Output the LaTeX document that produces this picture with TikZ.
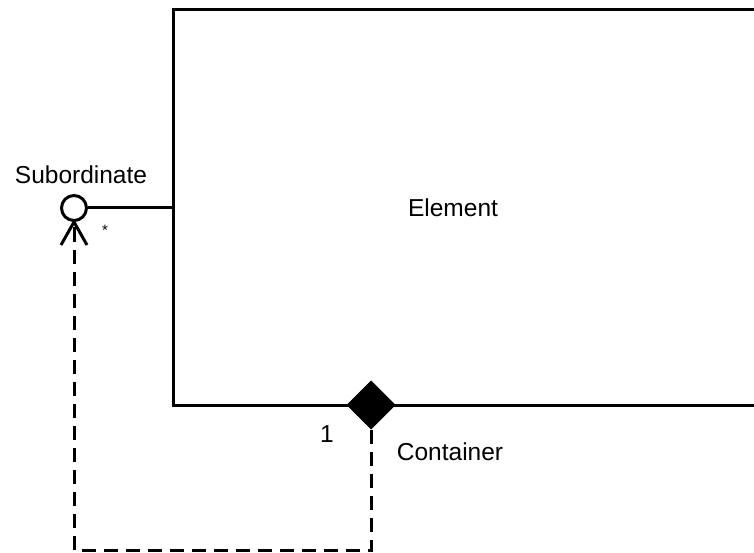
\documentclass[tikz,border=0pt]{standalone}
\usepackage{fontspec}
\setmainfont{Liberation Sans}
\usetikzlibrary{shapes.geometric}
\begin{document}
\begin{tikzpicture}[x=1pt,y=-1pt,
  solidline/.style={line width=3pt},
  dashline/.style={line width=3pt, dash pattern=on 14pt off 8pt},
  lbl/.style={font=\fontsize{24.5}{28}\selectfont, inner sep=0pt},
  iface/.style={circle, draw, line width=3pt, minimum size=25pt, inner sep=0pt, fill=white},
  agg/.style={diamond, fill=black, draw=black, line width=1pt, minimum width=48pt, minimum height=48pt, inner sep=0pt}]
\useasboundingbox (0,0) rectangle (754,553);
% element box (cut at right edge)
\coordinate (tr) at (760,10);
\coordinate (tl) at (173,10);
\coordinate (bl) at (173,405);
\coordinate (br) at (760,405);
\draw[solidline] (tr) -- (tl) -- (bl) -- (br);
\node[lbl] (elem) at (453,208) {Element};
% interface
\node[iface] (sub) at (74,208) {};
\coordinate (subj) at (173,208);
\draw[solidline] (sub.east) -- (subj);
\node[lbl] (sublbl) at (81,175) {Subordinate};
\node[lbl, font=\fontsize{15}{18}\selectfont] (star) at (105,230) {*};
% diamond
\node[agg] (dia) at (371,405) {};
\node[lbl] (one) at (327,434) {1};
\node[lbl] (cont) at (450,452) {Container};
% dashed dependency
\coordinate (c1) at (371,550);
\coordinate (c2) at (74,550);
\draw[dashline] (dia.south) -- (c1) -- (c2) -- (sub.south);
\coordinate (al) at (61,245);
\coordinate (ar) at (87,245);
\draw[solidline] (al) -- (sub.south) -- (ar);
\end{tikzpicture}
\end{document}
